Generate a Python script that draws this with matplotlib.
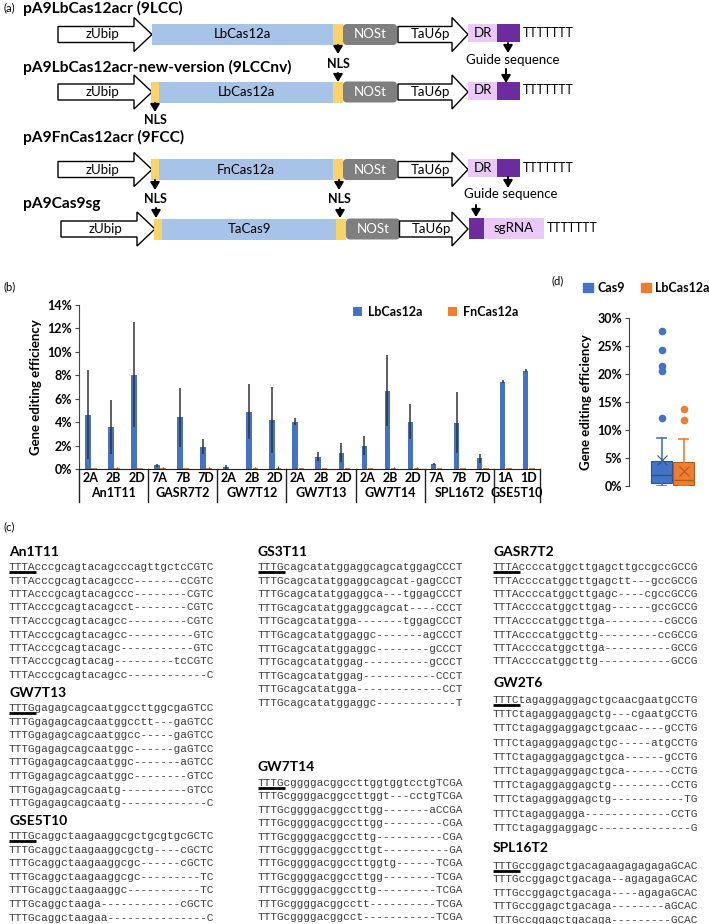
import numpy as np
import matplotlib.pyplot as plt
from matplotlib import patches
from matplotlib.ticker import PercentFormatter

plt.rcParams['font.family'] = ['Lato', 'DejaVu Sans']

BLUE = '#4472C4'
ORANGE = '#ED7D31'
SEQ_COLOR = '#3c3c3c'

# ---------------- (b) editing efficiency per target / subgenome (%)
groups = ['An1T11', 'GASR7T2', 'GW7T12', 'GW7T13', 'GW7T14', 'SPL16T2', 'GSE5T10']
subgenomes = [['2A', '2B', '2D'], ['7A', '7B', '7D'], ['2A', '2B', '2D'], ['2A', '2B', '2D'],
              ['2A', '2B', '2D'], ['7A', '7B', '7D'], ['1A', '1D']]
lb_mean = [4.65, 3.6, 8.05, 0.3, 4.4, 1.9, 0.15, 4.9, 4.2, 4.05, 1.05, 1.4,
           2.0, 6.7, 4.05, 0.45, 3.95, 0.9, 7.45, 8.4]
lb_err = [3.8, 2.3, 4.5, 0.1, 2.55, 0.65, 0.15, 2.35, 2.8, 0.3, 0.4, 0.8,
          0.8, 3.0, 1.5, 0.1, 2.6, 0.35, 0.15, 0.15]
fn_mean = [0.05, 0.12, 0.08, 0.12, 0.06, 0.1, 0.0, 0.1, 0.12, 0.05, 0.07, 0.06,
           0.05, 0.12, 0.1, 0.05, 0.05, 0.05, 0.05, 0.05]
fn_err = [0.0, 0.03, 0.0, 0.03, 0.0, 0.03, 0.0, 0.03, 0.1, 0.0, 0.0, 0.0,
          0.0, 0.05, 0.03, 0.0, 0.0, 0.0, 0.0, 0.0]

# ---------------- (d) box plot summary (%)
box_labels = ['Cas9', 'LbCas12a']
box_q1 = [0.55, 0.25]
box_med = [2.0, 1.0]
box_q3 = [4.4, 4.2]
box_lo = [0.0, 0.0]
box_hi = [8.6, 8.4]
box_mean = [4.6, 2.6]
box_fliers = [[27.6, 24.2, 21.4, 20.6, 12.1], [13.8, 11.8]]

# ---------------- (a) constructs
construct_titles = ['pA9LbCas12acr (9LCC)', 'pA9LbCas12acr-new-version (9LCCnv)',
                    'pA9FnCas12acr (9FCC)', 'pA9Cas9sg']
cas_names = ['LbCas12a', 'LbCas12a', 'FnCas12a', 'TaCas9']

# ---------------- (c) sequences
seq_An1T11 = ['TTTAcccgcagtacagcccagttgctcCGTC',
              'TTTAcccgcagtacagccc-------cCGTC',
              'TTTAcccgcagtacagccc--------CGTC',
              'TTTAcccgcagtacagcct--------CGTC',
              'TTTAcccgcagtacagcc---------CGTC',
              'TTTAcccgcagtacagcc----------GTC',
              'TTTAcccgcagtacagc-----------GTC',
              'TTTAcccgcagtacag---------tcCGTC',
              'TTTAcccgcagtacagcc------------C']
seq_GW7T13 = ['TTTGgagagcagcaatggccttggcgaGTCC',
              'TTTGgagagcagcaatggcctt---gaGTCC',
              'TTTGgagagcagcaatggcc-----gaGTCC',
              'TTTGgagagcagcaatggc------gaGTCC',
              'TTTGgagagcagcaatggc-------aGTCC',
              'TTTGgagagcagcaatggc--------GTCC',
              'TTTGgagagcagcaatg----------GTCC',
              'TTTGgagagcagcaatg-------------C']
seq_GSE5T10 = ['TTTGcaggctaagaaggcgctgcgtgcGCTC',
               'TTTGcaggctaagaaggcgctg----cGCTC',
               'TTTGcaggctaagaaggcgc------cGCTC',
               'TTTGcaggctaagaaggcgc---------TC',
               'TTTGcaggctaagaaggc-----------TC',
               'TTTGcaggctaaga------------cGCTC',
               'TTTGcaggctaagaa---------------C']
seq_GS3T11 = ['TTTGcagcatatggaggcagcatggagCCCT',
              'TTTGcagcatatggaggcagcat-gagCCCT',
              'TTTGcagcatatggaggca---tggagCCCT',
              'TTTGcagcatatggaggcagcat----CCCT',
              'TTTGcagcatatgga-------tggagCCCT',
              'TTTGcagcatatggaggc-------agCCCT',
              'TTTGcagcatatggaggc--------gCCCT',
              'TTTGcagcatatggag----------gCCCT',
              'TTTGcagcatatggag-----------CCCT',
              'TTTGcagcatatgga-------------CCT',
              'TTTGcagcatatggaggc------------T']
seq_GW7T14 = ['TTTGcggggacggccttggtggtcctgTCGA',
              'TTTGcggggacggccttggt---cctgTCGA',
              'TTTGcggggacggccttgg-------aCCGA',
              'TTTGcggggacggccttgg---------CGA',
              'TTTGcggggacggccttg----------CGA',
              'TTTGcggggacggccttgt----------GA',
              'TTTGcggggacggccttggtg------TCGA',
              'TTTGcggggacggccttgg--------TCGA',
              'TTTGcggggacggccttg---------TCGA',
              'TTTGcggggacggcctt----------TCGA',
              'TTTGcggggacggcct-----------TCGA']
seq_GASR7T2 = ['TTTAccccatggcttgagcttgccgccGCCG',
               'TTTAccccatggcttgagctt---gccGCCG',
               'TTTAccccatggcttgagc----cgccGCCG',
               'TTTAccccatggcttgag------gccGCCG',
               'TTTAccccatggcttga---------cGCCG',
               'TTTAccccatggcttg---------ccGCCG',
               'TTTAccccatggcttga----------GCCG',
               'TTTAccccatggcttg-----------GCCG']
seq_GW2T6 = ['TTTCtagaggaggagctgcaacgaatgCCTG',
             'TTTCtagaggaggagctg---cgaatgCCTG',
             'TTTCtagaggaggagctgcaac----gCCTG',
             'TTTCtagaggaggagctgc-----atgCCTG',
             'TTTCtagaggaggagctgca------gCCTG',
             'TTTCtagaggaggagctgca-------CCTG',
             'TTTCtagaggaggagctg---------CCTG',
             'TTTCtagaggaggagctg-----------TG',
             'TTTCtagaggagga-------------CCTG',
             'TTTCtagaggaggagc--------------G']
seq_SPL16T2 = ['TTTGccggagctgacagaagagagagaGCAC',
               'TTTGccggagctgacaga--agagagaGCAC',
               'TTTGccggagctgacaga----agagaGCAC',
               'TTTGccggagctgacaga--------aGCAC',
               'TTTGccggagctgacaga---------GCAC']

fig = plt.figure(figsize=(7.09, 9.24), dpi=100)

# overlay axes in pixel units for the schematic (a) and the alignments (c)
ov = fig.add_axes([0, 0, 1, 1])
ov.set_xlim(0, 709)
ov.set_ylim(924, 0)
ov.axis('off')

ov.text(3, 8, '(a)', fontsize=8, va='center')
ov.text(3, 287, '(b)', fontsize=8, va='center')
ov.text(3, 527, '(c)', fontsize=8, va='center')
ov.text(551, 281, '(d)', fontsize=8, va='center')


def promoter(x0, x1, yc, label, head=18):
    xs = [x0, x1 - head, x1 - head, x1, x1 - head, x1 - head, x0]
    ys = [yc - 8, yc - 8, yc - 17, yc, yc + 17, yc + 8, yc + 8]
    ov.add_patch(patches.Polygon(list(zip(xs, ys)), closed=True, fc='white', ec='black', lw=1))
    ov.text(x0 + 0.47 * (x1 - x0), yc, label, fontsize=9.5, ha='center', va='center')


def rect(x0, x1, yc, h, color, label='', tcolor='black'):
    ov.add_patch(patches.Rectangle((x0, yc - h / 2), x1 - x0, h, fc=color, ec='none'))
    if label:
        ov.text((x0 + x1) / 2, yc, label, fontsize=9.5, ha='center', va='center', color=tcolor)


def arrow(x, y0, y1):
    ov.annotate('', xy=(x, y1), xytext=(x, y0),
                arrowprops=dict(arrowstyle='-|>,head_width=0.3,head_length=0.5',
                                color='black', lw=1.4, mutation_scale=9, shrinkA=0, shrinkB=0))


title_y = [8, 67, 137, 204]
row_y = [34.5, 92, 169.5, 229]
for i in range(4):
    yc = row_y[i]
    ov.text(23, title_y[i], construct_titles[i], fontsize=11.2, fontweight='bold', va='center')
    s = 3 if i == 3 else 0
    promoter(58 + s, 152 + s, yc, 'zUbip')
    if i == 0:
        rect(152, 333, yc, 21, '#A8C3E8', cas_names[i])
    else:
        rect(151 + s, 159 + s, yc, 21, '#F6D36B')
        rect(159 + s, 333 + s, yc, 21, '#A8C3E8', cas_names[i])
    rect(333 + s, 343 + s, yc, 21, '#F6D36B')
    ov.add_patch(patches.FancyBboxPatch((343 + s, yc - 10.5), 54, 21,
                                        boxstyle='round,pad=0,rounding_size=4',
                                        fc='#7F7F7F', ec='none'))
    ov.text(370 + s, yc, 'NOSt', fontsize=9.5, ha='center', va='center', color='white')
    promoter(398 + s / 2, 468, yc, 'TaU6p', head=16)
    if i < 3:
        rect(468, 497, yc - 1.5, 18, '#EBC9F6', 'DR')
        rect(497, 520, yc - 1.5, 18, '#6C2C9E')
        ov.text(523, yc - 1.5, 'TTTTTTT', fontsize=9, va='center')
    else:
        rect(469, 484, yc - 1, 21, '#6C2C9E')
        rect(484, 544, yc - 1, 21, '#EBC9F6', 'sgRNA')
        ov.text(547, yc - 1, 'TTTTTTT', fontsize=9, va='center')

# NLS / guide callouts
nls_kw = dict(fontsize=9, fontweight='bold', ha='center', va='center')
arrow(338, 45, 54)
ov.text(338, 64, 'NLS', **nls_kw)
arrow(338, 73, 82)
arrow(508, 43, 53)
ov.text(513, 60, 'Guide sequence', fontsize=9.5, ha='center', va='center')
arrow(506, 69, 83)
arrow(155, 103, 112)
ov.text(155, 120, 'NLS', **nls_kw)
arrow(155, 180, 190)
ov.text(155, 199, 'NLS', **nls_kw)
arrow(156, 208, 218)
arrow(339, 180, 190)
ov.text(339, 199, 'NLS', **nls_kw)
arrow(340, 208, 218)
arrow(508, 177, 188)
ov.text(511, 194, 'Guide sequence', fontsize=9.5, ha='center', va='center')
arrow(476, 205, 217)

# ---------------- (c) alignments
blocks = [('An1T11', seq_An1T11, 9, 552, 567, 13.5),
          ('GW7T13', seq_GW7T13, 9, 693, 708, 13.6),
          ('GSE5T10', seq_GSE5T10, 9, 821, 836, 13.6),
          ('GS3T11', seq_GS3T11, 258, 552, 567, 13.6),
          ('GW7T14', seq_GW7T14, 258, 767, 783, 13.4),
          ('GASR7T2', seq_GASR7T2, 493, 552, 567, 13.5),
          ('GW2T6', seq_GW2T6, 493, 683, 700, 14.2),
          ('SPL16T2', seq_SPL16T2, 493, 848, 866, 13.4)]
char_w = 0.6 * 8 * 100 / 72
for name, seqs, x, ty, ly, step in blocks:
    ov.text(x, ty, name, fontsize=10, fontweight='bold', va='center')
    for k, sq in enumerate(seqs):
        ov.text(x, ly + k * step, sq, fontsize=8, family='Liberation Mono',
                color=SEQ_COLOR, va='center')
    ov.plot([x, x + 4 * char_w], [ly + 5, ly + 5], color='black', lw=2, solid_capstyle='butt')

# ---------------- (b) bar chart
ax = fig.add_axes([79 / 709, 1 - 469 / 924, 461 / 709, 164 / 924])
xpos = np.arange(len(lb_mean))
ax.bar(xpos - 0.12, np.array(lb_mean) / 100, 0.24, yerr=np.array(lb_err) / 100, color=BLUE,
       error_kw=dict(ecolor='#333333', elinewidth=1.1, capsize=0), label='LbCas12a')
ax.bar(xpos + 0.15, np.array(fn_mean) / 100, 0.24, yerr=np.array(fn_err) / 100, color=ORANGE,
       error_kw=dict(ecolor='#333333', elinewidth=0.8, capsize=0), label='FnCas12a')
ax.set_xlim(-0.5, len(lb_mean) - 0.5)
ax.set_ylim(0, 0.14)
ax.set_yticks(np.arange(0, 0.141, 0.02))
ax.yaxis.set_major_formatter(PercentFormatter(1.0, decimals=0))
ax.spines[['top', 'right']].set_visible(False)
ax.spines['left'].set_color('#444444')
ax.spines['bottom'].set_color('#222222')
ax.tick_params(axis='y', length=3, color='#444444', labelsize=9, pad=2)
sub_labels = [s for g in subgenomes for s in g]
ax.set_xticks(xpos, sub_labels)
ax.tick_params(axis='x', length=0, labelsize=9, pad=2)
for lab in ax.get_xticklabels() + ax.get_yticklabels():
    lab.set_fontweight('bold')
ax.set_ylabel('Gene editing efficiency', fontsize=9.5, fontweight='bold', labelpad=4)
start = -0.5
for g, subs in zip(groups, subgenomes):
    end = start + len(subs)
    ax.annotate(g, xy=((start + end) / 2, -0.148), xycoords=('data', 'axes fraction'),
                ha='center', va='center', fontsize=9, fontweight='bold', annotation_clip=False)
    ax.plot([start, start], [0, -0.2], color='#222222', lw=1, transform=ax.get_xaxis_transform(),
            clip_on=False)
    start = end
ax.plot([start, start], [0, -0.2], color='#222222', lw=1, transform=ax.get_xaxis_transform(),
        clip_on=False)
ax.legend(loc='center left', bbox_to_anchor=(0.595, 0.96), ncol=2, frameon=False,
          prop=dict(weight='bold', size=9), handlelength=0.7, handleheight=0.7,
          handletextpad=0.5, columnspacing=2.0, borderpad=0, borderaxespad=0)

# ---------------- (d) box plot
axd = fig.add_axes([629 / 709, 1 - 486 / 924, 76 / 709, 168 / 924])
stats = []
for i in range(2):
    stats.append(dict(label=box_labels[i], q1=box_q1[i] / 100, med=box_med[i] / 100,
                      q3=box_q3[i] / 100, whislo=box_lo[i] / 100, whishi=box_hi[i] / 100,
                      mean=box_mean[i] / 100, fliers=np.array(box_fliers[i]) / 100))
bcols = [BLUE, ORANGE]
dcols = ['#2F528F', '#B35A1F']
for i in range(2):
    axd.bxp([stats[i]], positions=[1 + i], widths=0.95, patch_artist=True, showmeans=True,
            boxprops=dict(facecolor=bcols[i], edgecolor=dcols[i], lw=0.8),
            medianprops=dict(color=dcols[i], lw=1),
            whiskerprops=dict(color=bcols[i], lw=1.2),
            capprops=dict(color=bcols[i], lw=1.2), capwidths=0.45,
            meanprops=dict(marker='x', markeredgecolor=dcols[i], markersize=7, mew=0.8),
            flierprops=dict(marker='o', markerfacecolor=bcols[i], markeredgecolor=bcols[i],
                            markersize=4.5))
axd.set_xlim(1 - 32.5 / 22, 2 + 21.5 / 22)
axd.set_ylim(0, 0.30)
axd.set_yticks(np.arange(0, 0.301, 0.05))
axd.yaxis.set_major_formatter(PercentFormatter(1.0, decimals=0))
axd.set_xticks([])
axd.spines[['top', 'right', 'bottom']].set_visible(False)
axd.spines['left'].set_color('#444444')
axd.tick_params(axis='y', length=3, color='#444444', labelsize=9, pad=2)
for lab in axd.get_yticklabels():
    lab.set_fontweight('bold')
axd.set_ylabel('Gene editing efficiency', fontsize=9.5, fontweight='bold', labelpad=4)
handles = [patches.Patch(color=c) for c in bcols]
fig.legend(handles, box_labels, loc='center left', bbox_to_anchor=(583 / 709, 1 - 288 / 924),
           ncol=2, frameon=False, prop=dict(weight='bold', size=9), handlelength=0.8,
           handleheight=0.8, handletextpad=0.4, columnspacing=1.2, borderpad=0,
           borderaxespad=0)

fig.savefig('out.png', dpi=100)
